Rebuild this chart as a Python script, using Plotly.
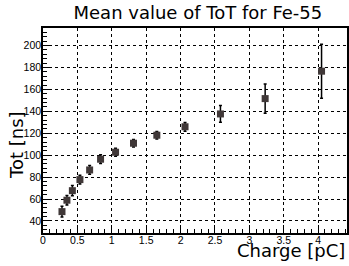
import plotly.graph_objects as go

charge = [0.276, 0.348, 0.427, 0.537, 0.678, 0.837, 1.055, 1.316, 1.655, 2.065, 2.58, 3.23, 4.05]
tot = [48.5, 58.9, 67.6, 77.7, 86.5, 96.3, 102.7, 110.9, 118.2, 125.9, 137.6, 151.6, 176.6]
tot_err = [4.8, 4.4, 4.7, 4.0, 4.0, 4.0, 3.6, 3.5, 3.5, 4.0, 7.6, 13.4, 24.6]

title_text = "Mean value of ToT for Fe-55"
x_title = "Charge [pC]"
y_title = "Tot [ns]"

fig = go.Figure()
fig.add_trace(go.Scatter(
    x=charge, y=tot, mode="markers",
    marker=dict(symbol="square", size=7, color="#403838"),
    error_y=dict(type="data", array=tot_err, visible=True, color="black", thickness=1.5, width=1.5),
    showlegend=False,
))

tickfont = dict(family="Liberation Sans Narrow, Liberation Sans, Arial", size=10.5, color="black")
fig.update_layout(
    width=349, height=266,
    margin=dict(l=43, r=2, t=28, b=33, autoexpand=False),
    paper_bgcolor="white", plot_bgcolor="white",
    title=dict(text=title_text, x=0.567, y=0.951, xanchor="center", yanchor="middle", automargin=False,
               font=dict(family="DejaVu Sans", size=18, color="black")),
    xaxis=dict(range=[0, 4.42], tick0=0, dtick=0.5, ticks="inside", ticklen=8, tickcolor="black",
               showline=True, linecolor="black", linewidth=1.5, mirror=True, automargin=False,
               showgrid=True, gridcolor="black", griddash="dot", gridwidth=1,
               zeroline=False, tickfont=tickfont, ticklabelstandoff=-3,
               minor=dict(dtick=0.1, ticks="inside", ticklen=4, tickcolor="black", showgrid=False)),
    yaxis=dict(range=[29, 216], tick0=0, dtick=20, ticks="inside", ticklen=8, tickcolor="black",
               showline=True, linecolor="black", linewidth=1.5, mirror=True, automargin=False,
               showgrid=True, gridcolor="black", griddash="dot", gridwidth=1,
               zeroline=False, tickfont=tickfont, ticklabelstandoff=-2,
               minor=dict(dtick=4, ticks="inside", ticklen=4, tickcolor="black", showgrid=False)),
    annotations=[
        dict(text=x_title, xref="paper", yref="paper", x=1.0, y=-0.083, xanchor="right", yanchor="middle",
             showarrow=False, font=dict(family="DejaVu Sans", size=18, color="black")),
        dict(text=y_title, xref="paper", yref="paper", x=-0.085, y=0.43, xanchor="center", yanchor="middle",
             textangle=-90, showarrow=False, font=dict(family="DejaVu Sans", size=18, color="black")),
    ],
)
fig.write_html("out.html", config={"displayModeBar": False},
               post_script="document.body.style.margin='0';document.body.style.overflow='hidden';")
